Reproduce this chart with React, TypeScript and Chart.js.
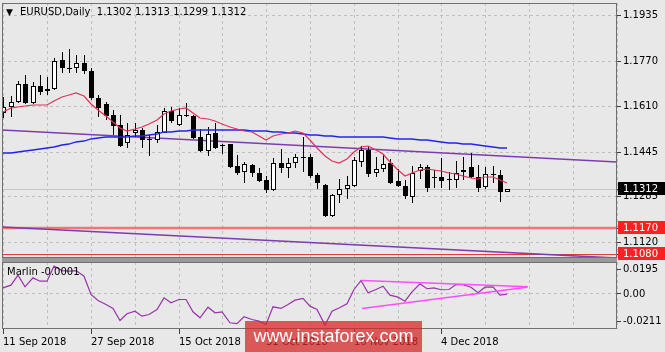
import React, { useEffect, useRef } from "react";
import { Chart, registerables } from "chart.js";

Chart.register(...registerables);

// ---------------- data ----------------
const open = [
  1.1585, 1.1604, 1.1622, 1.1688, 1.1621, 1.1681, 1.1663, 1.1669, 1.1774, 1.1746,
  1.1744, 1.1762, 1.1735, 1.1636, 1.1615, 1.1577, 1.1541, 1.1475, 1.1513, 1.1523,
  1.1491, 1.1487, 1.1513, 1.1591, 1.1540, 1.1576, 1.1573, 1.1496, 1.1449, 1.1513,
  1.1468, 1.1471, 1.1394, 1.1371, 1.1397, 1.1370, 1.1344, 1.1308, 1.1406, 1.1385,
  1.1406, 1.1426, 1.1425, 1.1361, 1.1326, 1.1215, 1.1290, 1.1310, 1.1323, 1.1409,
  1.1451, 1.1368, 1.1382, 1.1403, 1.1340, 1.1323, 1.1284, 1.1377, 1.1391, 1.1355,
  1.1353, 1.1346, 1.1344, 1.1378, 1.1389, 1.1353, 1.1317, 1.1366, 1.1361, 1.1302,
];
const high = [
  1.1640, 1.1645, 1.1700, 1.1720, 1.1696, 1.1720, 1.1712, 1.1780, 1.1803, 1.1812,
  1.1792, 1.1792, 1.1744, 1.1648, 1.1624, 1.1594, 1.1577, 1.1547, 1.1547, 1.1529,
  1.1505, 1.1541, 1.1601, 1.1606, 1.1601, 1.1618, 1.1577, 1.1525, 1.1532, 1.1549,
  1.1471, 1.1472, 1.1433, 1.1409, 1.1401, 1.1385, 1.1358, 1.1421, 1.1454, 1.1421,
  1.1437, 1.1497, 1.1437, 1.1370, 1.1329, 1.1293, 1.1346, 1.1358, 1.1425, 1.1466,
  1.1466, 1.1425, 1.1433, 1.1418, 1.1382, 1.1344, 1.1394, 1.1401, 1.1397, 1.1379,
  1.1421, 1.1373, 1.1413, 1.1425, 1.1442, 1.1397, 1.1389, 1.1394, 1.1379, 1.1313,
];
const low = [
  1.1565, 1.1568, 1.1618, 1.1616, 1.1616, 1.1648, 1.1648, 1.1666, 1.1728, 1.1726,
  1.1726, 1.1722, 1.1630, 1.1570, 1.1559, 1.1505, 1.1463, 1.1457, 1.1499, 1.1457,
  1.1430, 1.1475, 1.1511, 1.1549, 1.1537, 1.1568, 1.1489, 1.1445, 1.1430, 1.1454,
  1.1437, 1.1385, 1.1361, 1.1332, 1.1355, 1.1338, 1.1298, 1.1305, 1.1368, 1.1350,
  1.1385, 1.1373, 1.1350, 1.1310, 1.1212, 1.1212, 1.1260, 1.1274, 1.1320, 1.1389,
  1.1355, 1.1355, 1.1373, 1.1329, 1.1320, 1.1274, 1.1262, 1.1346, 1.1302, 1.1316,
  1.1314, 1.1308, 1.1314, 1.1344, 1.1350, 1.1302, 1.1310, 1.1332, 1.1266, 1.1299,
];
const close = [
  1.1606, 1.1624, 1.1688, 1.1618, 1.1681, 1.1660, 1.1668, 1.1771, 1.1744, 1.1742,
  1.1762, 1.1735, 1.1636, 1.1601, 1.1573, 1.1537, 1.1465, 1.1505, 1.1523, 1.1487,
  1.1487, 1.1517, 1.1591, 1.1555, 1.1577, 1.1572, 1.1495, 1.1449, 1.1509, 1.1457,
  1.1464, 1.1389, 1.1370, 1.1401, 1.1368, 1.1341, 1.1308, 1.1403, 1.1388, 1.1406,
  1.1425, 1.1422, 1.1358, 1.1334, 1.1215, 1.1290, 1.1310, 1.1326, 1.1415, 1.1451,
  1.1365, 1.1382, 1.1401, 1.1332, 1.1323, 1.1286, 1.1368, 1.1391, 1.1316, 1.1351,
  1.1339, 1.1342, 1.1370, 1.1374, 1.1353, 1.1314, 1.1365, 1.1362, 1.1302, 1.1312,
];
const redMa = [
  1.1588, 1.1600, 1.1606, 1.1608, 1.1614, 1.1614, 1.1612, 1.1628, 1.1642, 1.1650,
  1.1654, 1.1646, 1.1617, 1.1596, 1.1573, 1.1550, 1.1529, 1.1521, 1.1527, 1.1534,
  1.1545, 1.1557, 1.1581, 1.1590, 1.1597, 1.1601, 1.1584, 1.1566, 1.1561, 1.1556,
  1.1545, 1.1533, 1.1525, 1.1521, 1.1514, 1.1503, 1.1487, 1.1500, 1.1507, 1.1512,
  1.1518, 1.1513, 1.1486, 1.1460, 1.1431, 1.1412, 1.1406, 1.1418, 1.1443, 1.1463,
  1.1466, 1.1451, 1.1435, 1.1408, 1.1378, 1.1358, 1.1368, 1.1381, 1.1382, 1.1378,
  1.1375, 1.1369, 1.1364, 1.1358, 1.1350, 1.1347, 1.1354, 1.1353, 1.1343, 1.1334,
];
const blueMa = [
  1.1439, 1.1442, 1.1445, 1.1448, 1.1451, 1.1454, 1.1457, 1.1463, 1.1468, 1.1474,
  1.1479, 1.1485, 1.1490, 1.1494, 1.1498, 1.1499, 1.1499, 1.1499, 1.1501, 1.1503,
  1.1505, 1.1510, 1.1514, 1.1517, 1.1519, 1.1521, 1.1523, 1.1523, 1.1523, 1.1523,
  1.1523, 1.1523, 1.1522, 1.1522, 1.1521, 1.1520, 1.1518, 1.1516, 1.1514, 1.1513,
  1.1511, 1.1509, 1.1506, 1.1504, 1.1502, 1.1500, 1.1499, 1.1499, 1.1499, 1.1499,
  1.1499, 1.1499, 1.1499, 1.1495, 1.1492, 1.1491, 1.1489, 1.1488, 1.1486, 1.1484,
  1.1481, 1.1477, 1.1476, 1.1474, 1.1472, 1.1469, 1.1466, 1.1463, 1.1460, 1.1457,
];
const marlin = [
  0.0048, 0.0069, 0.0147, 0.0056, 0.0126, 0.0100, 0.0100, 0.0217, 0.0183, 0.0178,
  0.0183, 0.0139, -0.0004, -0.0051, -0.0082, -0.0113, -0.0207, -0.0154, -0.0134, -0.0173,
  -0.0160, -0.0121, -0.0030, -0.0069, -0.0043, -0.0043, -0.0139, -0.0186, -0.0103, -0.0147,
  -0.0139, -0.0225, -0.0232, -0.0178, -0.0199, -0.0212, -0.0238, -0.0100, -0.0113, -0.0082,
  -0.0048, -0.0035, -0.0095, -0.0121, -0.0243, -0.0134, -0.0109, -0.0076, 0.0035, 0.0105,
  0.0009, 0.0035, 0.0061, -0.0009, -0.0025, -0.0056, 0.0017, 0.0080, 0.0041, 0.0048,
  0.0033, 0.0035, 0.0074, 0.0072, 0.0053, 0.0009, 0.0053, 0.0056, -0.0009, -0.0001,
];

// trend lines (value at left edge, value at right edge)
const upperChannel = [1.1523, 1.1407];
const lowerChannel = [1.1174, 1.1063];
const levelLines = [1.117, 1.108];
const lastPrice = 1.1312;

// magenta triangle in the oscillator window
const marlinUpperX = [49.1, 71.9];
const marlinUpperY = [0.0105, 0.0056];
const marlinLowerX = [49.1, 71.7];
const marlinLowerY = [-0.0113, 0.0053];

// axes
const priceTicks = [1.1935, 1.177, 1.161, 1.1445, 1.1285, 1.1312, 1.117, 1.112, 1.108];
const priceTickLabels = ["1.1935", "1.1770", "1.1610", "1.1445", "1.1285", "1.1312", "1.1170", "1.1120", "1.1080"];
const marlinTicks = [0.0195, 0, -0.0211];
const marlinTickLabels = ["0.0195", "0.00", "-0.0211"];
const gridIndex = [0, 6, 12, 18, 24, 30, 36, 42, 48, 54, 60, 66, 72, 78, 84];
const dateTickIndex = [0, 12, 24, 36, 48, 60];
const dateTickLabels = ["11 Sep 2018", "27 Sep 2018", "15 Oct 2018", "31 Oct 2018", "16 Nov 2018", "4 Dec 2018"];

// ---------------- styling / scale settings ----------------
const X_MIN = -0.18;
const X_MAX = 84.04;
const PRICE_MIN = 1.1064;
const PRICE_MAX = 1.1978;
const MARLIN_MIN = -0.02734;
const MARLIN_MAX = 0.02497;

const BG = "#e8e8e8";
const GRID = "#c0c0c0";
const FRAME = "#707070";
const NONE = "rgba(0,0,0,0)";
const FONT = { family: "'DejaVu Sans', sans-serif", size: 10 };

const same = (a: number, b: number) => Math.abs(a - b) < 1e-7;
const isMarker = (v: number) => same(v, lastPrice) || levelLines.some((l) => same(l, v));

const framePlugin = {
  id: "frame",
  afterDraw(chart: any) {
    const { ctx, chartArea: a } = chart;
    ctx.save();
    ctx.strokeStyle = FRAME;
    ctx.lineWidth = 1;
    ctx.strokeRect(a.left + 0.5, a.top + 0.5, a.right - a.left - 1, a.bottom - a.top - 1);
    ctx.restore();
  },
};

const pixelShiftPlugin = {
  id: "pixelShift",
  beforeDatasetDraw(chart: any, args: any) {
    const s = chart.data.datasets[args.index].pixelShift;
    chart.ctx.save();
    if (s) chart.ctx.translate(s[0], s[1]);
  },
  afterDatasetDraw(chart: any) {
    chart.ctx.restore();
  },
};

function xAxis(withLabels: boolean, height: number) {
  return {
    type: "linear",
    min: X_MIN,
    max: X_MAX,
    offset: false,
    bounds: "data",
    alignToPixels: true,
    grid: {
      offset: false,
      color: GRID,
      lineWidth: 1,
      drawOnChartArea: true,
      drawTicks: withLabels,
      tickLength: 5,
      tickWidth: 1,
      tickColor: (c: any) => (c.tick && dateTickIndex.includes(c.tick.value) ? "#404040" : NONE),
    },
    border: { display: false, dash: [3, 3] },
    ticks: {
      display: withLabels,
      autoSkip: false,
      maxRotation: 0,
      minRotation: 0,
      align: "start",
      padding: 2,
      font: FONT,
      color: "#000",
      callback: (v: number) => {
        const k = dateTickIndex.indexOf(v);
        return k >= 0 ? dateTickLabels[k] : "";
      },
    },
    afterBuildTicks: (s: any) => {
      s.ticks = gridIndex.map((v) => ({ value: v }));
    },
    afterFit: (s: any) => {
      s.height = height;
      s.paddingLeft = 0;
      s.paddingRight = 0;
      s.paddingTop = 0;
      s.paddingBottom = 0;
    },
  };
}

const baseOptions = {
  responsive: false,
  maintainAspectRatio: false,
  animation: false,
  events: [],
  plugins: { legend: { display: false }, tooltip: { enabled: false }, title: { display: false } },
};

const line = (data: any[], color: string, width: number, order: number, extra: any = {}) => ({
  type: "line",
  data,
  borderColor: color,
  borderWidth: width,
  pointRadius: 0,
  fill: false,
  tension: 0,
  order,
  ...extra,
});

function mainConfig(): any {
  const idx = open.map((_, i) => i);
  return {
    type: "bar",
    data: {
      datasets: [
        line([{ x: X_MIN, y: lastPrice }, { x: X_MAX, y: lastPrice }], "#c6c6c6", 1, 12, { pixelShift: [0, 0.5] }),
        line([{ x: X_MIN, y: levelLines[0] }, { x: X_MAX, y: levelLines[0] }], "#f27474", 2.5, 11),
        line([{ x: X_MIN, y: levelLines[1] }, { x: X_MAX, y: levelLines[1] }], "#e63838", 1, 10, { pixelShift: [0, 0.5] }),
        line([{ x: X_MIN, y: upperChannel[0] }, { x: X_MAX, y: upperChannel[1] }], "#7d3cb0", 1.6, 9),
        line([{ x: X_MIN, y: lowerChannel[0] }, { x: X_MAX, y: lowerChannel[1] }], "#7d3cb0", 1.6, 8),
        {
          type: "bar",
          data: idx.map((i) => ({ x: i, y: [low[i], high[i]] })),
          backgroundColor: "#000",
          borderWidth: 0,
          barThickness: 1,
          grouped: false,
          inflateAmount: 0,
          order: 4,
          pixelShift: [0.5, 0],
        },
        {
          type: "bar",
          data: idx.map((i) => ({ x: i, y: [open[i], close[i]] })),
          backgroundColor: idx.map((i) => (close[i] >= open[i] ? "#ffffff" : "#000000")),
          borderColor: "#000",
          borderWidth: 1,
          borderSkipped: false,
          barThickness: 5,
          grouped: false,
          inflateAmount: 0,
          order: 3,
          pixelShift: [0.5, 0],
        },
        line(idx.map((i) => ({ x: i, y: blueMa[i] })), "#2424ee", 1.3, 2),
        line(idx.map((i) => ({ x: i, y: redMa[i] })), "#e2305a", 1.2, 1),
      ],
    },
    options: {
      ...baseOptions,
      layout: { padding: { left: 2, top: 3, right: 0, bottom: 0 } },
      scales: {
        x: xAxis(false, 2),
        y: {
          type: "linear",
          position: "right",
          min: PRICE_MIN,
          max: PRICE_MAX,
          bounds: "data",
          beginAtZero: false,
          alignToPixels: true,
          grid: {
            color: (c: any) => (c.tick && isMarker(c.tick.value) ? NONE : GRID),
            drawTicks: true,
            tickLength: 4,
            tickWidth: 1,
            tickColor: "#404040",
          },
          border: { display: false, dash: [3, 3] },
          ticks: {
            autoSkip: false,
            padding: 2,
            font: FONT,
            color: (c: any) => (c.tick && isMarker(c.tick.value) ? "#ffffff" : "#000000"),
            showLabelBackdrop: true,
            backdropColor: (c: any) => {
              if (!c.tick) return NONE;
              if (same(c.tick.value, lastPrice)) return "#000000";
              if (levelLines.some((l) => same(l, c.tick.value))) return "#ff2020";
              return NONE;
            },
            backdropPadding: { left: 5, right: 8, top: 1, bottom: 0 },
            callback: (v: number) => {
              const k = priceTicks.findIndex((p) => same(p, v));
              return k >= 0 ? priceTickLabels[k] : "";
            },
          },
          afterBuildTicks: (s: any) => {
            s.ticks = priceTicks.map((v) => ({ value: v }));
          },
          afterFit: (s: any) => {
            s.width = 48;
            s.paddingTop = 0;
            s.paddingBottom = 0;
          },
        },
      },
    },
    plugins: [pixelShiftPlugin, framePlugin],
  };
}

function subConfig(): any {
  return {
    type: "line",
    data: {
      datasets: [
        line(marlin.map((v, i) => ({ x: i, y: v })), "#9933aa", 1.2, 2),
        line(marlinUpperX.map((x, i) => ({ x, y: marlinUpperY[i] })), "#ff4dff", 1.5, 1),
        line(marlinLowerX.map((x, i) => ({ x, y: marlinLowerY[i] })), "#ff4dff", 1.5, 0),
      ],
    },
    options: {
      ...baseOptions,
      layout: { padding: { left: 2, top: 0, right: 0, bottom: 0 } },
      scales: {
        x: xAxis(true, 23),
        y: {
          type: "linear",
          position: "right",
          min: MARLIN_MIN,
          max: MARLIN_MAX,
          bounds: "data",
          beginAtZero: false,
          grid: {
            color: (c: any) => (c.tick && c.tick.value === 0 ? GRID : NONE),
            drawTicks: true,
            tickLength: 4,
            tickWidth: 1,
            tickColor: "#404040",
          },
          border: { display: false, dash: [3, 3] },
          ticks: {
            autoSkip: false,
            padding: 2,
            font: FONT,
            color: "#000",
            callback: (v: number) => {
              const k = marlinTicks.findIndex((p) => same(p, v));
              return k >= 0 ? marlinTickLabels[k] : "";
            },
          },
          afterBuildTicks: (s: any) => {
            s.ticks = marlinTicks.map((v) => ({ value: v }));
          },
          afterFit: (s: any) => {
            s.width = 48;
            s.paddingTop = 0;
            s.paddingBottom = 0;
          },
        },
      },
    },
    plugins: [framePlugin],
  };
}

export default function App() {
  const mainRef = useRef<HTMLCanvasElement>(null);
  const subRef = useRef<HTMLCanvasElement>(null);

  useEffect(() => {
    const main = new Chart(mainRef.current as HTMLCanvasElement, mainConfig());
    const sub = new Chart(subRef.current as HTMLCanvasElement, subConfig());
    return () => {
      main.destroy();
      sub.destroy();
    };
  }, []);

  const textFont = "10px 'DejaVu Sans', sans-serif";

  return (
    <div
      style={{
        position: "absolute",
        left: 0,
        top: 0,
        width: 665,
        height: 352,
        background: BG,
        overflow: "hidden",
      }}
    >
      <canvas ref={mainRef} width={665} height={260} style={{ position: "absolute", left: 0, top: 0 }} />
      <div style={{ position: "absolute", left: 2, top: 258, width: 615, height: 4, background: "#9a9a9a" }} />
      <canvas ref={subRef} width={665} height={90} style={{ position: "absolute", left: 0, top: 262 }} />
      <div
        style={{
          position: "absolute",
          left: 6,
          top: 6,
          font: textFont,
          lineHeight: "12px",
          color: "#000",
          whiteSpace: "pre",
        }}
      >
        <span style={{ fontSize: 9, display: "inline-block", width: 14 }}>▼</span>
        {"EURUSD,Daily  1.1302 1.1313 1.1299 1.1312"}
      </div>
      <div
        style={{
          position: "absolute",
          left: 7,
          top: 266,
          font: textFont,
          lineHeight: "12px",
          color: "#000",
          whiteSpace: "pre",
        }}
      >
        Marlin -0.0001
      </div>
      <div
        style={{
          position: "absolute",
          left: 245,
          top: 321,
          width: 177,
          height: 31,
          background: "rgba(214,40,40,0.75)",
          color: "#fff",
          font: "18px 'Liberation Sans', Arial, sans-serif",
          lineHeight: "31px",
          textAlign: "center",
        }}
      >
        www.instaforex.com
      </div>
    </div>
  );
}
